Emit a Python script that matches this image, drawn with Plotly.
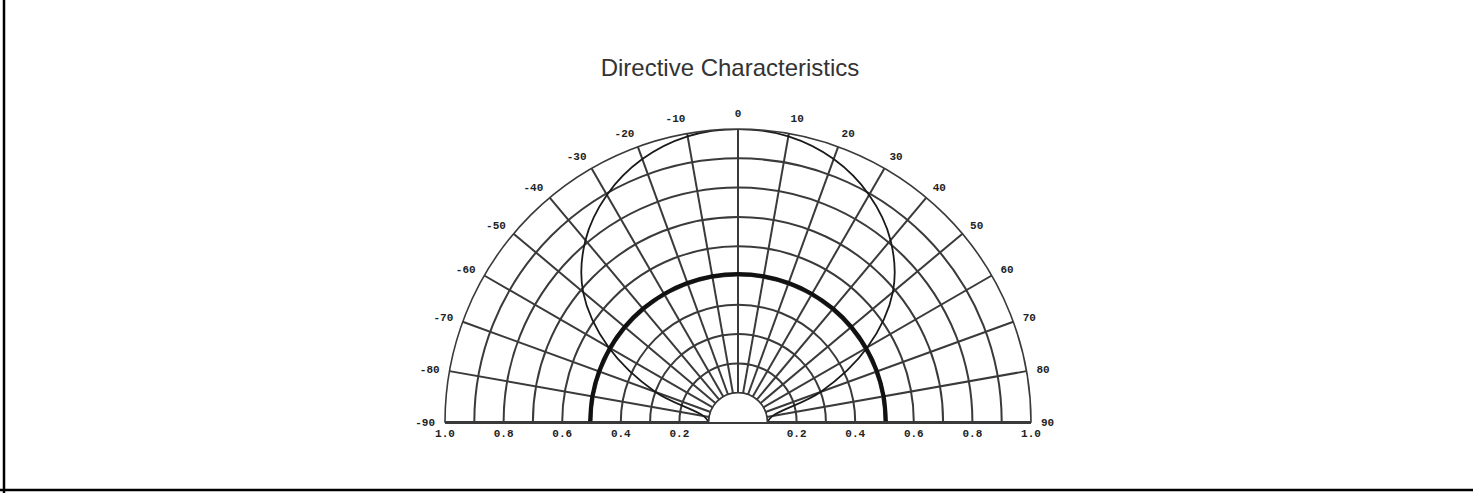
import plotly.graph_objects as go

# Emission angle in degrees (0 = straight up, negative to the left)
angles = [-90, -80, -70, -60, -50, -40, -30, -20, -10, 0,
          10, 20, 30, 40, 50, 60, 70, 80, 90]

# Relative intensity of the narrow (thin line) pattern
pattern_narrow = [0.10, 0.12, 0.30, 0.51, 0.69, 0.81, 0.895, 0.955, 0.99, 1.00,
                  0.99, 0.955, 0.895, 0.81, 0.69, 0.51, 0.30, 0.12, 0.10]

# Relative intensity of the wide (thick line) pattern
pattern_wide = [0.505] * 19

# Radial scale labels along the baseline
radial_ticks = [-1.0, -0.8, -0.6, -0.4, -0.2, 0.2, 0.4, 0.6, 0.8, 1.0]
radial_text = ["1.0", "0.8", "0.6", "0.4", "0.2", "0.2", "0.4", "0.6", "0.8", "1.0"]

# Angular labels
angle_ticks = list(range(-90, 91, 10))
angle_text = [str(a) for a in angle_ticks]

# Inner circle limiting the spokes
inner_angles = list(range(-90, 91, 2))
inner_r = [0.1] * len(inner_angles)

W, H = 1473, 493
cx, base_y, R = 738, 422, 293
dom_x = [(cx - R) / W, (cx + R) / W]
dom_y = [(H - base_y) / H, (H - base_y + R) / H]

grid_col = "#3a3a3a"
tick_font = dict(family="Liberation Mono", size=11, color="#222222", weight="bold")

fig = go.Figure()

fig.add_trace(go.Scatterpolar(
    r=inner_r, theta=inner_angles, mode="lines",
    line=dict(color=grid_col, width=1.6),
    fill="toself", fillcolor="white",
    hoverinfo="skip", showlegend=False,
))

fig.add_trace(go.Scatterpolar(
    r=pattern_narrow, theta=angles, mode="lines",
    line=dict(color="#1a1a1a", width=1.8, shape="spline", smoothing=1.0),
    showlegend=False,
))

fig.add_trace(go.Scatterpolar(
    r=pattern_wide, theta=angles, mode="lines",
    line=dict(color="#111111", width=4, shape="spline"),
    showlegend=False,
))

# Cartesian companion axis carrying the baseline and its radial labels
fig.add_trace(go.Scatter(
    x=[radial_ticks[0], radial_ticks[-1]], y=[0, 0], mode="markers",
    marker=dict(opacity=0), hoverinfo="skip", showlegend=False,
    xaxis="x", yaxis="y",
))

fig.update_layout(
    width=W, height=H,
    margin=dict(l=0, r=0, t=0, b=0, autoexpand=False),
    paper_bgcolor="white",
    plot_bgcolor="rgba(0,0,0,0)",
    title=dict(
        text="Directive Characteristics",
        x=730 / W, xanchor="center",
        y=1 - 68 / H, yanchor="middle", yref="paper",
        font=dict(family="Liberation Sans", size=24, color="#333333"),
    ),
    polar=dict(
        domain=dict(x=dom_x, y=dom_y),
        sector=[0, 180],
        hole=0.1,
        bgcolor="white",
        radialaxis=dict(
            range=[0.1, 1.0],
            tickvals=[round(0.1 * k, 1) for k in range(1, 11)],
            showticklabels=False, ticks="", showline=False,
            showgrid=True, gridcolor=grid_col, gridwidth=1.6,
        ),
        angularaxis=dict(
            rotation=90, direction="clockwise",
            tickmode="array", tickvals=angle_ticks, ticktext=angle_text,
            ticks="outside", ticklen=7, tickcolor="rgba(0,0,0,0)",
            tickfont=tick_font,
            showline=True, linecolor=grid_col, linewidth=1.6,
            showgrid=True, gridcolor=grid_col, gridwidth=1.6,
        ),
    ),
    xaxis=dict(
        domain=dom_x, range=[-1, 1], anchor="y",
        tickmode="array", tickvals=radial_ticks, ticktext=radial_text,
        ticks="", tickfont=tick_font, automargin=False,
        showgrid=False, zeroline=False,
        showline=True, linecolor=grid_col, linewidth=1.6,
        fixedrange=True,
    ),
    yaxis=dict(
        domain=dom_y, range=[0, 1], visible=False, fixedrange=True,
    ),
    shapes=[
        dict(type="line", xref="paper", yref="paper",
             x0=4 / W, x1=4 / W, y0=0, y1=1,
             line=dict(color="black", width=2.5)),
        dict(type="line", xref="paper", yref="paper",
             x0=0, x1=1, y0=3 / H, y1=3 / H,
             line=dict(color="black", width=2.5)),
    ],
)

fig.write_html("out.html")
